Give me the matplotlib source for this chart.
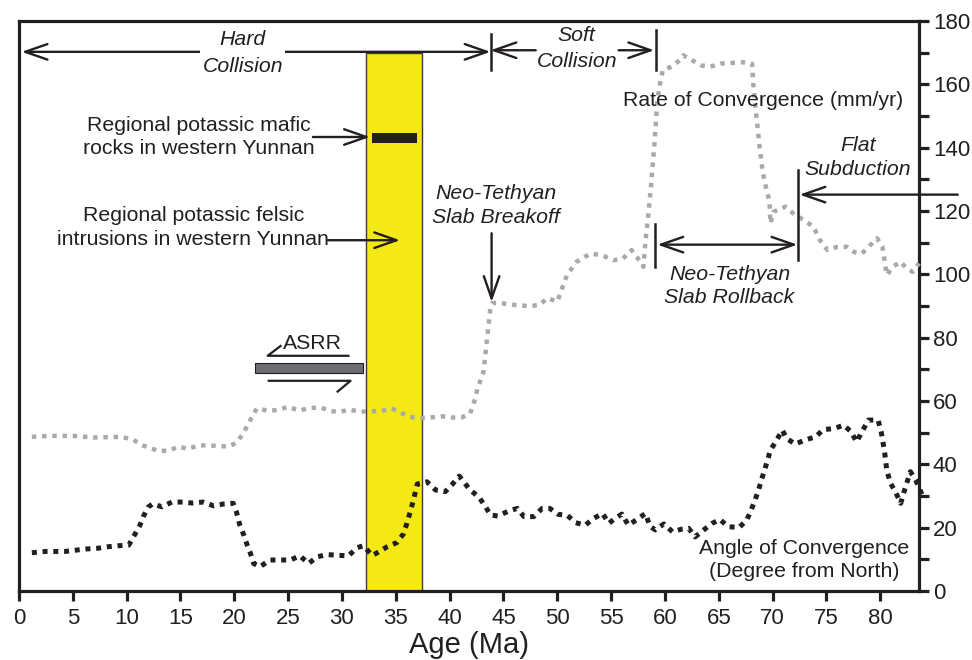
import matplotlib
matplotlib.use("Agg")
import matplotlib.pyplot as plt
from matplotlib.patches import Rectangle, FancyArrowPatch

plt.rcParams['font.family'] = ['Liberation Sans', 'DejaVu Sans']

# ---------------- data ----------------
rate_age = [1.2, 3.0, 5.0, 7.0, 9.4, 10.5, 11.5, 12.9, 13.9, 14.8, 15.7, 16.7, 17.6, 19.5, 20.2,
            20.85, 21.3, 22.1, 23.2, 24.1, 25.0, 26.0, 27.0, 28.0, 29.0, 29.8, 30.7, 31.7, 32.6,
            33.6, 34.6, 35.4, 36.2, 37.3, 38.2, 39.2, 40.2, 41.1, 41.9, 42.3, 42.6, 43.15, 43.8,
            44.0, 45.0, 46.2, 47.3, 48.3, 49.1, 50.0, 50.9, 51.8, 53.1, 54.2, 55.2, 56.1, 56.9,
            57.4, 58.0, 58.2, 58.5, 58.7, 59.0, 59.3, 59.6, 59.8, 60.6, 61.4, 61.7, 62.6, 63.4,
            64.2, 65.2, 66.1, 67.3, 68.1, 68.2, 68.5, 68.8, 69.1, 69.5, 69.7, 69.8, 70.1, 71.2,
            72.1, 73.0, 73.8, 74.4, 75.1, 76.0, 76.9, 77.6, 78.3, 79.0, 79.7, 80.2, 80.6, 81.2,
            81.9, 82.4, 83.0, 83.6]
rate_val = [48.7, 49.0, 49.0, 48.5, 48.7, 48.0, 46.0, 44.3, 44.3, 45.6, 44.9, 46.0, 46.0, 45.6, 46.9,
            49.8, 52.9, 57.7, 56.9, 57.2, 58.2, 57.0, 57.8, 58.0, 56.8, 56.6, 57.3, 56.6, 56.8,
            56.8, 57.7, 56.5, 55.0, 54.6, 54.8, 55.2, 54.8, 54.8, 56.0, 60.0, 64.0, 69.3, 89.8,
            91.0, 90.8, 90.3, 90.0, 90.3, 92.5, 91.4, 99.8, 104.0, 106.6, 106.0, 104.5, 105.0, 107.7,
            105.5, 102.4, 110.8, 120.3, 127.7, 140.0, 155.0, 161.3, 164.5, 165.6, 167.7, 169.2, 167.5, 166.0,
            165.6, 166.6, 166.8, 167.0, 166.5, 160.3, 149.8, 140.0, 132.0, 125.6, 123.5, 116.1, 119.8, 121.4,
            118.7, 117.0, 115.0, 110.8, 107.7, 108.7, 108.7, 107.0, 106.6, 109.0, 111.4, 108.7, 99.8, 102.5,
            104.0, 102.0, 100.8, 103.5]

angle_age = [1.2, 2.5, 3.5, 4.3, 5.5, 6.3, 7.3, 8.3, 9.2, 10.2, 10.7, 11.2, 11.55, 12.0, 12.4,
             13.3, 14.2, 15.2, 16.1, 17.1, 18.1, 19.0, 19.9, 20.2, 20.5, 20.9, 21.2, 21.5, 21.8,
             22.4, 23.3, 24.3, 25.2, 26.1, 26.9, 27.7, 28.6, 29.6, 30.6, 31.4, 32.0, 32.8, 33.5,
             34.2, 35.1, 35.7, 36.0, 36.3, 36.6, 37.0, 37.9, 38.7, 39.6, 40.2, 40.9, 41.9, 42.7,
             43.3, 43.8, 44.5, 45.5, 46.3, 46.9, 47.8, 48.6, 49.3, 50.1, 50.9, 51.7, 52.6, 53.4,
             54.2, 54.8, 55.4, 56.0, 56.6, 57.4, 58.2, 58.6, 59.1, 59.9, 60.7, 61.5, 62.2, 62.8,
             63.6, 64.4, 65.1, 65.9, 66.9, 67.6, 68.0, 68.4, 68.7, 69.0, 69.3, 69.8, 70.3, 70.9,
             71.3, 72.1, 73.0, 74.0, 74.7, 75.7, 76.6, 77.3, 77.8, 78.3, 78.9, 79.8, 80.1, 80.4,
             80.6, 80.95, 81.4, 81.9, 82.3, 82.8, 83.3, 83.9]
angle_val = [12.1, 12.5, 12.5, 12.5, 13.0, 13.3, 13.5, 14.0, 14.3, 14.5, 17.5, 20.5, 23.5, 26.5, 27.5,
             26.6, 28.1, 28.1, 27.8, 28.1, 26.9, 27.5, 27.7, 25.0, 21.0, 17.5, 14.5, 11.9, 8.7,
             7.7, 9.8, 9.8, 9.8, 11.1, 8.7, 10.8, 11.5, 11.3, 11.1, 13.7, 14.3, 11.2, 12.5,
             14.0, 15.3, 18.0, 21.0, 24.5, 28.2, 33.8, 34.5, 31.9, 31.4, 33.5, 36.3, 31.9, 29.8,
             26.8, 24.0, 23.7, 25.3, 26.1, 23.5, 23.5, 26.1, 26.1, 24.2, 24.0, 21.6, 20.8, 23.0,
             24.5, 21.4, 23.0, 24.3, 20.8, 22.6, 24.5, 20.5, 19.3, 21.2, 18.7, 19.5, 19.8, 17.1,
             19.3, 21.4, 22.6, 20.3, 20.1, 22.4, 25.5, 29.0, 32.0, 35.5, 38.7, 44.5, 47.2, 50.8,
             48.2, 46.4, 47.7, 48.7, 51.0, 51.3, 52.4, 50.3, 47.1, 50.3, 54.0, 54.0, 50.0, 44.0,
             38.2, 34.0, 31.4, 27.7, 32.4, 37.7, 35.0, 30.3]

# ---------------- figure ----------------
fig = plt.figure(figsize=(9.72, 6.6), dpi=100)
ax = fig.add_axes([0.0195, 0.1045, 0.926, 0.8635])
ax.set_xlim(0, 83.6)
ax.set_ylim(0, 180)

TXT = '#231f20'
FS = 15.3

# yellow band
ax.add_patch(Rectangle((32.2, 0), 5.2, 170, facecolor='#f5e915', edgecolor='#3a3a3a', lw=1.0, zorder=1))
# black bar (mafic rocks)
ax.add_patch(Rectangle((32.8, 141.5), 4.2, 3.2, facecolor='#231f20', edgecolor='none', zorder=3))
# ASRR bar
ax.add_patch(Rectangle((21.9, 68.9), 10.1, 3.0, facecolor='#6d6e71', edgecolor='#231f20', lw=0.8, zorder=3))

# lines
ax.plot(rate_age, rate_val, color='#a7a9ac', lw=3.2, linestyle=(0, (1, 1.3)),
        dash_capstyle='butt', zorder=4, clip_on=False)
ax.plot(angle_age, angle_val, color='#231f20', lw=3.6, linestyle=(0, (1, 1.15)),
        dash_capstyle='butt', zorder=4, clip_on=False)

# axes styling
for s in ax.spines.values():
    s.set_linewidth(2.3)
    s.set_color(TXT)
ax.yaxis.tick_right()
ax.set_xticks(range(0, 81, 5))
ax.set_yticks(range(0, 181, 20))
ax.set_yticks(range(10, 180, 20), minor=True)
ax.tick_params(axis='x', direction='out', length=7, width=2.3, labelsize=16, colors=TXT, pad=5)
ax.tick_params(axis='y', which='both', direction='out', length=7, width=2.3, labelsize=16,
               colors=TXT, pad=3, left=False, right=True)
ax.set_xlabel('Age (Ma)', fontsize=21, color=TXT, labelpad=2)


def arrow(p1, p2, style='->', lw=1.7):
    a = FancyArrowPatch(p1, p2, arrowstyle=style + ',head_length=0.8,head_width=0.28',
                        mutation_scale=20, lw=lw, color=TXT, shrinkA=0, shrinkB=0,
                        zorder=5, clip_on=False)
    ax.add_patch(a)


def vbar(x, y0, y1, lw=1.8):
    ax.plot([x, x], [y0, y1], color=TXT, lw=lw, zorder=5, clip_on=False)


# Hard collision
arrow((0.25, 170.3), (43.8, 170.3), '<->')
ax.text(20.8, 170.0, 'Hard\nCollision', ha='center', va='center', fontsize=FS, style='italic',
        color=TXT, linespacing=1.5, zorder=6,
        bbox=dict(facecolor='white', edgecolor='none', pad=1.5))
# Soft collision
vbar(43.8, 164.5, 176.0)
vbar(59.2, 164.5, 177.1)
arrow((48.0, 170.8), (43.8, 170.8))
arrow((55.7, 170.8), (59.0, 170.8))
ax.text(51.8, 171.3, 'Soft\nCollision', ha='center', va='center', fontsize=FS, style='italic',
        color=TXT, linespacing=1.5, zorder=6)

ax.text(69.1, 155.0, 'Rate of Convergence (mm/yr)', ha='center', va='center', fontsize=FS,
        color=TXT, zorder=6)

# Flat subduction
vbar(72.4, 104.4, 132.9)
arrow((87.2, 125.2), (72.5, 125.2))
ax.text(77.9, 136.9, 'Flat\nSubduction', ha='center', va='center', fontsize=FS, style='italic',
        color=TXT, linespacing=1.35, zorder=6)

# Slab rollback
vbar(59.1, 102.3, 116.0)
arrow((59.3, 109.4), (72.3, 109.4), '<->')
ax.text(66.0, 96.3, 'Neo-Tethyan\nSlab Rollback', ha='center', va='center', fontsize=FS,
        style='italic', color=TXT, linespacing=1.25, zorder=6)

# Slab breakoff
ax.text(44.3, 121.7, 'Neo-Tethyan\nSlab Breakoff', ha='center', va='center', fontsize=FS,
        style='italic', color=TXT, linespacing=1.35, zorder=6)
arrow((43.9, 113.0), (43.9, 91.3))

# Mafic rocks
ax.text(16.7, 143.5, 'Regional potassic mafic\nrocks in western Yunnan', ha='center',
        va='center', fontsize=FS, color=TXT, linespacing=1.25, zorder=6)
arrow((27.3, 143.4), (32.6, 143.4))

# Felsic intrusions
ax.text(16.2, 114.8, 'Regional potassic felsic\nintrusions in western Yunnan', ha='center',
        va='center', fontsize=FS, color=TXT, linespacing=1.35, zorder=6)
arrow((28.7, 110.8), (35.4, 110.8))

# ASRR shear sense
ax.text(27.3, 78.3, 'ASRR', ha='center', va='center', fontsize=FS, color=TXT, zorder=6)
ax.plot([24.3, 23.1, 30.6], [77.4, 74.3, 74.3], color=TXT, lw=1.6, zorder=5)
ax.plot([23.2, 30.8, 29.6], [66.4, 66.4, 63.0], color=TXT, lw=1.6, zorder=5)

# Angle label
ax.text(72.9, 9.8, 'Angle of Convergence\n(Degree from North)', ha='center', va='center',
        fontsize=FS, color=TXT, linespacing=1.3, zorder=6)

fig.savefig('out.png', dpi=100)
